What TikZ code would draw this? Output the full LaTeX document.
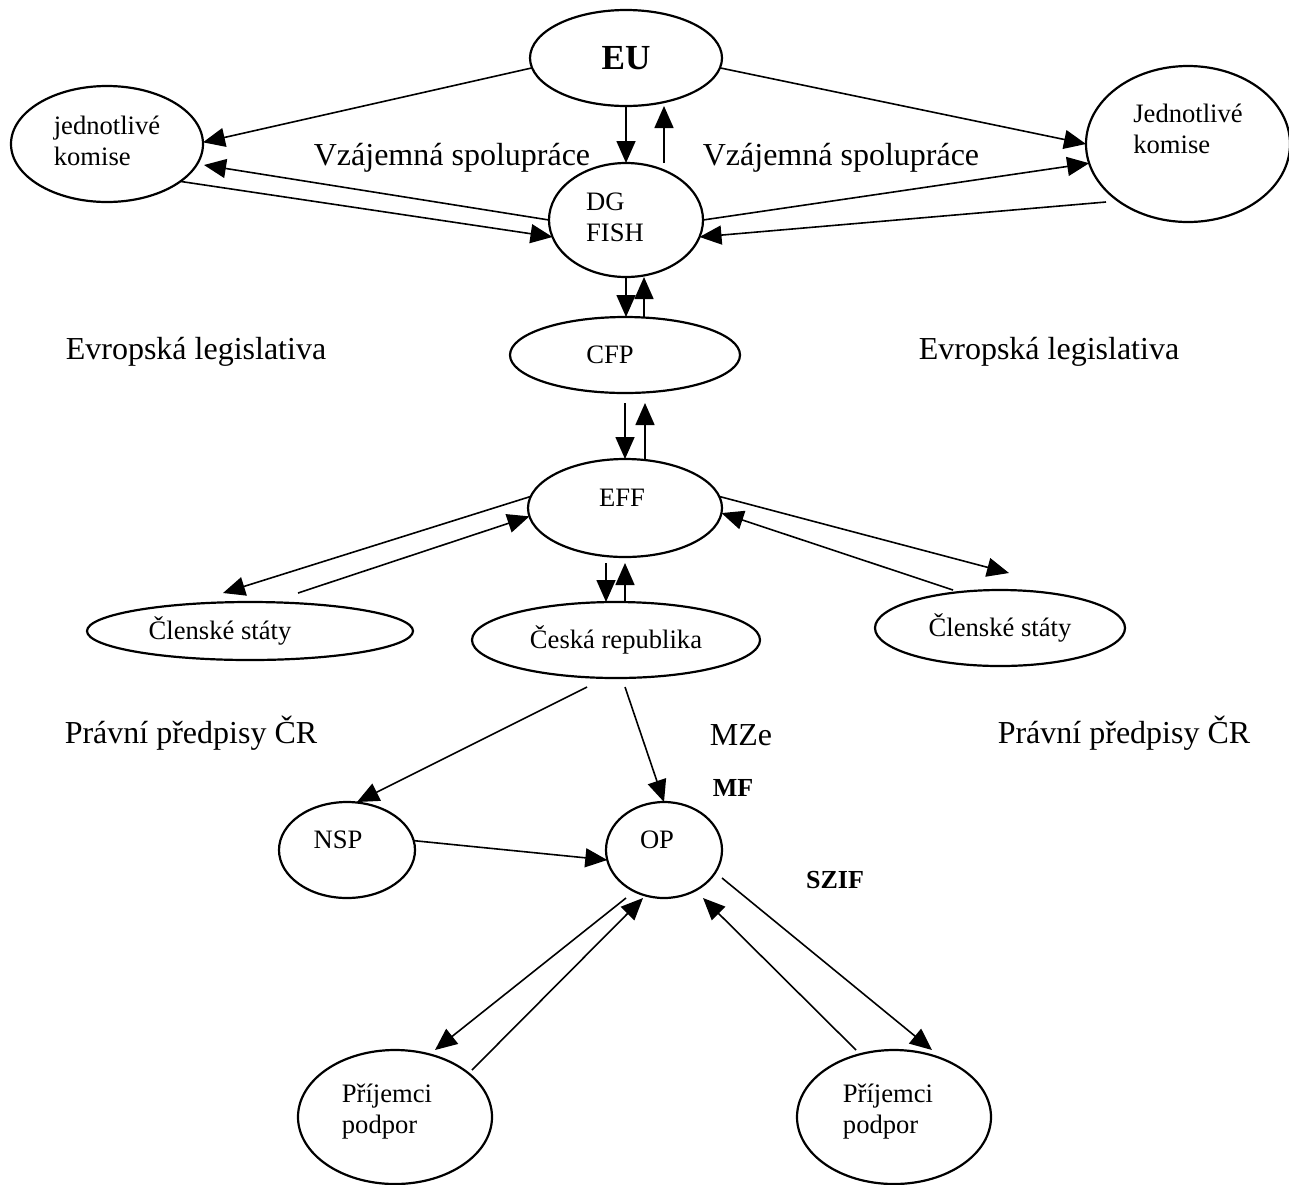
\documentclass[tikz,border=0pt]{standalone}
\usepackage{fontspec}
\setmainfont{Liberation Serif}
\usetikzlibrary{shapes.geometric,arrows.meta}
\newcommand{\nudge}[3]{\raisebox{#2}[\height][\depth]{\rlap{\hspace*{#1}#3}\phantom{#3}}}
\newcommand{\twolines}[2]{\begin{tabular}{@{}l@{}}#1\\#2\end{tabular}}
\begin{document}
\begin{tikzpicture}[x=0.5pt,y=-0.5pt,
    oval/.style={ellipse,draw,line width=1.1pt,inner sep=0pt,outer sep=0pt,
                 font=\fontsize{13.3}{15.5}\selectfont},
    arr/.style={-{Triangle[length=11pt,width=9.5pt]},line width=0.8pt},
    big/.style={anchor=base,font=\fontsize{16}{19}\selectfont},
    small/.style={anchor=base,font=\bfseries\fontsize{13}{15}\selectfont}]

\useasboundingbox (0,0) rectangle (1289,1184);

\node [oval,minimum width=96pt,minimum height=48pt] (eu) at (626,58) {\bfseries\fontsize{17.6}{20}\selectfont EU};
\node [oval,minimum width=96pt,minimum height=58pt] (koml) at (107,144) {\twolines{jednotlivé}{komise}};
\node [oval,minimum width=102pt,minimum height=78pt] (komr) at (1188,144) {\nudge{0pt}{6pt}{\twolines{Jednotlivé}{komise}}};
\node [oval,minimum width=77pt,minimum height=57pt] (dg) at (626,220) {\nudge{-5.5pt}{0pt}{\twolines{DG}{FISH}}};
\node [oval,minimum width=115pt,minimum height=38pt] (cfp) at (625,355) {\nudge{-7.5pt}{0pt}{CFP}};
\node [oval,minimum width=97pt,minimum height=49pt] (eff) at (625,508) {\nudge{-1.5pt}{5pt}{EFF}};
\node [oval,minimum width=163pt,minimum height=29pt] (csl) at (250,631) {\nudge{-15pt}{0pt}{Členské státy}};
\node [oval,minimum width=144pt,minimum height=38pt] (cr) at (616,640) {Česká republika};
\node [oval,minimum width=125pt,minimum height=38pt] (csr) at (1000,628) {Členské státy};
\node [oval,minimum width=68pt,minimum height=48pt] (nsp) at (347,850) {\nudge{-4.5pt}{5pt}{NSP}};
\node [oval,minimum width=58pt,minimum height=48pt] (op) at (664,850) {\nudge{-3.5pt}{5pt}{OP}};
\node [oval,minimum width=97pt,minimum height=67pt] (ppl) at (395,1117) {\nudge{-4pt}{2.5pt}{\twolines{Příjemci}{podpor}}};
\node [oval,minimum width=97pt,minimum height=67pt] (ppr) at (894,1117) {\nudge{-3pt}{2.5pt}{\twolines{Příjemci}{podpor}}};

\node [big] (vzl) at (452,165) {Vzájemná spolupráce};
\node [big] (vzr) at (841,165) {Vzájemná spolupráce};
\node [big] (evl) at (196,359) {Evropská legislativa};
\node [big] (evr) at (1049,359) {Evropská legislativa};
\node [big] (prl) at (191,743) {Právní předpisy ČR};
\node [big] (prr) at (1124,743) {Právní předpisy ČR};
\node [big] (mze) at (741,745) {MZe};
\node [small] (mf) at (733,796) {MF};
\node [small] (szif) at (835,888) {SZIF};

\draw [arr] (eu.186) -- (koml.1);
\draw [arr] (eu.-6) -- (komr.west);
\draw [arr] (eu.south) -- (dg.north);
\draw [arr] ([xshift=19pt]dg.north) -- ([xshift=19pt]eu.south);
\draw [arr] (dg.west) -- ([shift={(0.5pt,-10.5pt)}]koml.east);
\draw [arr] (koml.-27) -- (dg.193);
\draw [arr] (dg.east) -- (komr.191);
\draw [arr] ([shift={(-41pt,10pt)}]komr.south) -- (dg.-13);
\draw [arr] (dg.south) -- (dg.south |- cfp.north);
\draw [arr] ([xshift=9.5pt]cfp.north) -- ([xshift=9.5pt]cfp.north |- dg.south);
\draw [arr] ([yshift=-5pt]cfp.south) -- (cfp.south |- eff.north);
\draw [arr] ([xshift=10pt]eff.north) -- ([xshift=10pt,yshift=-5pt]cfp.south);
\draw [arr] ([shift={(-9.5pt,-3pt)}]eff.south) -- ([xshift=-9.5pt]eff.south |- cr.north);
\draw [arr] (eff.south |- cr.north) -- ([yshift=-3pt]eff.south);
\draw [arr] (eff.173) -- ([shift={(-13.5pt,4.5pt)}]csl.north);
\draw [arr] ([shift={(24pt,4.5pt)}]csl.north) -- (eff.185);
\draw [arr] (eff.7) -- ([shift={(4.5pt,8.5pt)}]csr.north);
\draw [arr] ([xshift=-23.5pt]csr.north) -- (eff.-3);
\draw [arr] ([shift={(-14.5pt,-4.5pt)}]cr.south) -- ([xshift=5pt]nsp.north);
\draw [arr] ([shift={(4.5pt,-4.5pt)}]cr.south) -- (op.north);
\draw [arr] (nsp.8) -- (op.190);
\draw [arr] ([xshift=-19pt]op.south) -- ([xshift=20pt]ppl.north);
\draw [arr] ([shift={(38.5pt,-10pt)}]ppl.north) -- ([xshift=-10.5pt]op.south);
\draw [arr] ([xshift=-19pt]ppr.north) -- ([xshift=19.5pt]op.south);
\draw [arr] ([yshift=-14pt]op.east) -- ([xshift=19pt]ppr.north);
\end{tikzpicture}
\end{document}
